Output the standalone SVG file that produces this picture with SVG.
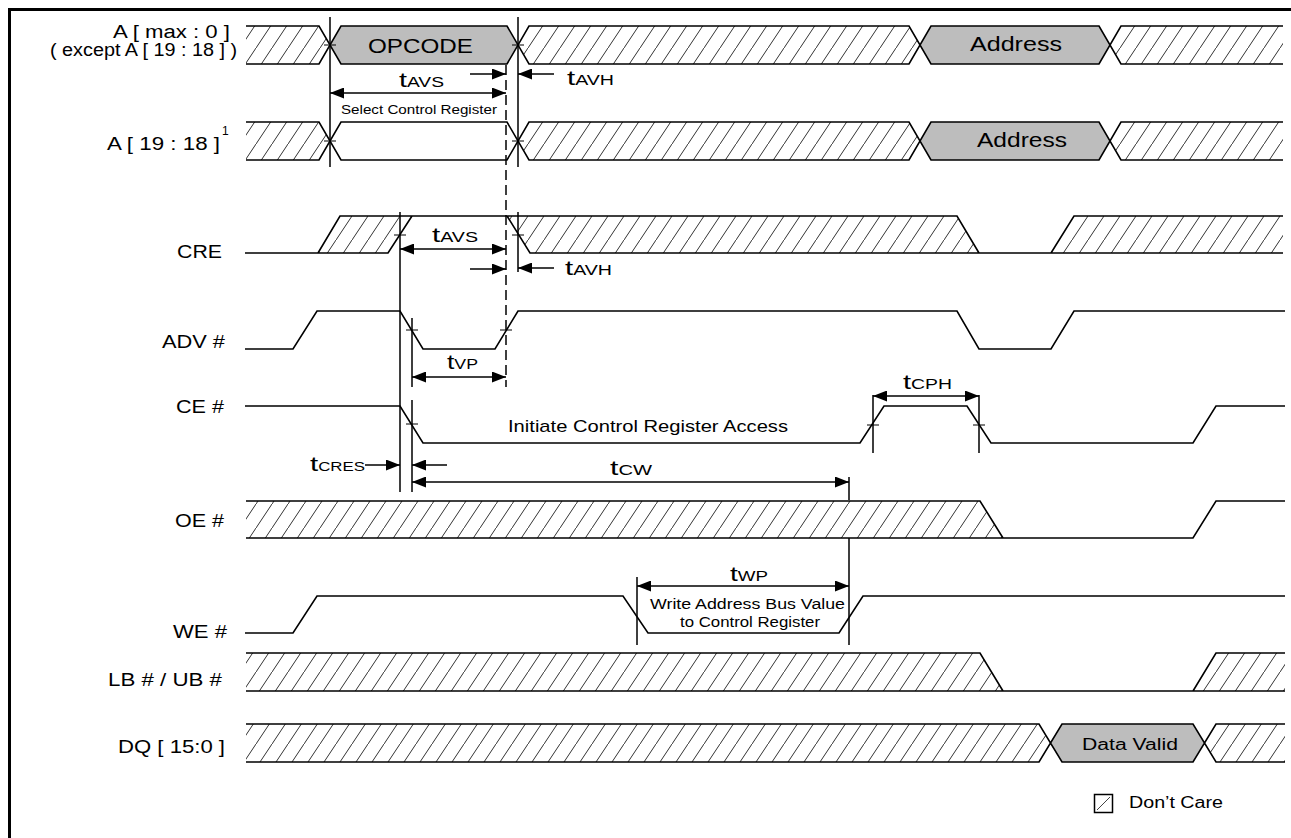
<svg xmlns="http://www.w3.org/2000/svg" width="1291" height="838" viewBox="0 0 1291 838">
<style>
text{font-family:"Liberation Sans",Arial,sans-serif;fill:#000}
.lbl{font-size:18px}
.sig{fill:none;stroke:#000;stroke-width:1.6;stroke-linejoin:miter}
.h{fill:url(#hatch);stroke:none}
.g{fill:#bdbdbd;stroke:none}
.ref{stroke:#000;stroke-width:1.5;fill:none}
.dash{stroke:#000;stroke-width:1.5;fill:none;stroke-dasharray:10 5}
.tick{stroke:#000;stroke-width:1.2}
.arr{stroke:#000;stroke-width:1.5;fill:none}
.dim{marker-end:url(#ah)}
.dbl{marker-start:url(#ah);marker-end:url(#ah)}
.tt{font-size:21px}
.ts{font-size:14px}
</style>
<defs>
<pattern id="hatch" patternUnits="userSpaceOnUse" width="16" height="24">
<path d="M-2,27 L18,-3" stroke="#333" stroke-width="1"/>
</pattern>
<marker id="ah" viewBox="0 0 14 11" refX="14" refY="5.5" markerWidth="14" markerHeight="11" markerUnits="userSpaceOnUse" orient="auto-start-reverse">
<path d="M0,0 L14,5.5 L0,11 z" fill="#000"/>
</marker>
</defs>
<rect width="1291" height="838" fill="#fff"/>
<path d="M9.5,838 V9.5 H1291" fill="none" stroke="#000" stroke-width="3"/>

<g id="addr-max">
<text class="lbl" x="113" y="38" textLength="117" lengthAdjust="spacingAndGlyphs">A [ max : 0 ]</text>
<text class="lbl" x="50" y="56" textLength="187" lengthAdjust="spacingAndGlyphs">( except A [ 19 : 18 ] )</text>
<polygon class="h" points="246,26 319,26 330,45 319,64 246,64"/>
<polygon class="g" points="330,45 341,26 507,26 518,45 507,64 341,64"/>
<polygon class="h" points="518,45 529,26 909,26 920,45 909,64 529,64"/>
<polygon class="g" points="920,45 931,26 1099,26 1110,45 1099,64 931,64"/>
<polygon class="h" points="1110,45 1121,26 1283,26 1283,64 1121,64"/>
<path class="sig" d="M246,26 H319 L341,64 H507 L529,26 H909 L931,64 H1099 L1121,26 H1283 M246,64 H319 L341,26 H507 L529,64 H909 L931,26 H1099 L1121,64 H1283"/>
<text x="368" y="53" font-size="21" textLength="105" lengthAdjust="spacingAndGlyphs">OPCODE</text>
<text x="970" y="51" font-size="21" textLength="92" lengthAdjust="spacingAndGlyphs">Address</text>
</g>

<g id="addr-19-18">
<text class="lbl" x="107" y="150" textLength="113" lengthAdjust="spacingAndGlyphs">A [ 19 : 18 ]</text>
<text x="222" y="135" font-size="12">1</text>
<polygon class="h" points="246,122 319,122 330,141 319,160 246,160"/>
<polygon class="h" points="518,141 529,122 909,122 920,141 909,160 529,160"/>
<polygon class="g" points="920,141 931,122 1099,122 1110,141 1099,160 931,160"/>
<polygon class="h" points="1110,141 1121,122 1283,122 1283,160 1121,160"/>
<path class="sig" d="M246,122 H319 L341,160 H507 L529,122 H909 L931,160 H1099 L1121,122 H1283 M246,160 H319 L341,122 H507 L529,160 H909 L931,122 H1099 L1121,160 H1283"/>
<text x="977" y="147" font-size="21" textLength="90" lengthAdjust="spacingAndGlyphs">Address</text>
</g>

<g id="cre">
<text class="lbl" x="177" y="258" textLength="45" lengthAdjust="spacingAndGlyphs">CRE</text>
<polygon class="h" points="318,253 340,216 412,216 388,253"/>
<polygon class="h" points="507,216 957,216 979,253 530,253"/>
<polygon class="h" points="1051,253 1074,216 1283,216 1283,253"/>
<path class="sig" d="M245,253 H388 L412,216 M318,253 L340,216 H957 L979,253 M507,216 L530,253 H1283 M1051,253 L1074,216 H1283"/>
</g>

<g id="adv">
<text class="lbl" x="162" y="348" textLength="63" lengthAdjust="spacingAndGlyphs">ADV #</text>
<path class="sig" d="M245,349 H293 L317,311 H400 L423,349 H495 L518,311 H957 L979,349 H1051 L1074,311 H1285"/>
</g>

<g id="ce">
<text class="lbl" x="176" y="413" textLength="48" lengthAdjust="spacingAndGlyphs">CE #</text>
<path class="sig" d="M245,406 H400 L423,443 H860 L884,406 H967 L991,443 H1193 L1216,406 H1285"/>
<text x="508" y="432" font-size="17" textLength="280" lengthAdjust="spacingAndGlyphs">Initiate Control Register Access</text>
</g>

<g id="oe">
<text class="lbl" x="175" y="527" textLength="49" lengthAdjust="spacingAndGlyphs">OE #</text>
<polygon class="h" points="246,501 980,501 1003,538 246,538"/>
<path class="sig" d="M246,501 H980 L1003,538 M246,538 H1193 L1216,501 H1285"/>
</g>

<g id="we">
<text class="lbl" x="173" y="638" textLength="54" lengthAdjust="spacingAndGlyphs">WE #</text>
<path class="sig" d="M245,633 H293 L317,596 H623 L648,633 H839 L863,596 H1285"/>
<text x="650" y="609" font-size="14" textLength="195" lengthAdjust="spacingAndGlyphs">Write Address Bus Value</text>
<text x="680" y="627" font-size="14" textLength="140" lengthAdjust="spacingAndGlyphs">to Control Register</text>
</g>

<g id="lb-ub">
<text class="lbl" x="108" y="686" textLength="114" lengthAdjust="spacingAndGlyphs">LB # / UB #</text>
<polygon class="h" points="246,653 980,653 1003,691 246,691"/>
<polygon class="h" points="1193,691 1216,653 1285,653 1285,691"/>
<path class="sig" d="M246,653 H980 L1003,691 M246,691 H1285 M1193,691 L1216,653 H1285"/>
</g>

<g id="dq">
<text class="lbl" x="118" y="753" textLength="107" lengthAdjust="spacingAndGlyphs">DQ [ 15:0 ]</text>
<polygon class="h" points="246,724 1039,724 1050,743 1039,762 246,762"/>
<polygon class="g" points="1050,743 1062,724 1193,724 1204,743 1193,762 1062,762"/>
<polygon class="h" points="1204,743 1216,724 1285,724 1285,762 1216,762"/>
<path class="sig" d="M246,724 H1039 L1062,762 H1193 L1216,724 H1285 M246,762 H1039 L1062,724 H1193 L1216,762 H1285"/>
<text x="1082" y="750" font-size="16" textLength="96" lengthAdjust="spacingAndGlyphs">Data Valid</text>
</g>

<g id="legend">
<rect x="1094.5" y="794.5" width="18" height="18" fill="#fff" stroke="#000" stroke-width="1.5"/>
<line x1="1097" y1="810" x2="1110" y2="797" stroke="#444" stroke-width="1"/>
<text x="1129" y="808" font-size="16" textLength="94" lengthAdjust="spacingAndGlyphs">Don’t Care</text>
</g>

<g id="connectors">
<path class="ref" d="M330,17 V167 M518,17 V167 M400,212 V492 M518,212 V272 M412,318 V387 M412,400 V492 M873,395 V453 M979,395 V453 M849,477 V500 M849,538 V645 M637,577 V645"/>
<path class="dash" d="M506,65 V387"/>
<path class="tick" d="M324,45 H336 M512,45 H524 M324,141 H336 M512,141 H524 M394,235 H406 M512,235 H524 M406,330 H418 M500,330 H512 M406,424 H418 M867,425 H879 M973,425 H985"/>
<path class="arr dbl" d="M330,93 H506"/>
<path class="arr dim" d="M470,74 H506"/>
<path class="arr dim" d="M554,74 H518"/>
<path class="arr dbl" d="M400,249 H506"/>
<path class="arr dim" d="M470,269 H506"/>
<path class="arr dim" d="M554,268 H518"/>
<path class="arr dbl" d="M412,377 H506"/>
<path class="arr dbl" d="M873,396 H979"/>
<path class="arr dim" d="M365,465 H400"/>
<path class="arr dim" d="M447,465 H412"/>
<path class="arr dbl" d="M412,482 H849"/>
<path class="arr dbl" d="M637,586 H849"/>
<text x="399" y="87" textLength="45" lengthAdjust="spacingAndGlyphs"><tspan class="tt">t</tspan><tspan class="ts">AVS</tspan></text>
<text x="567" y="85" textLength="47" lengthAdjust="spacingAndGlyphs"><tspan class="tt">t</tspan><tspan class="ts">AVH</tspan></text>
<text x="341" y="114" font-size="12" textLength="156" lengthAdjust="spacingAndGlyphs">Select Control Register</text>
<text x="432" y="242" textLength="46" lengthAdjust="spacingAndGlyphs"><tspan class="tt">t</tspan><tspan class="ts">AVS</tspan></text>
<text x="565" y="275" textLength="47" lengthAdjust="spacingAndGlyphs"><tspan class="tt">t</tspan><tspan class="ts">AVH</tspan></text>
<text x="447" y="369" textLength="31" lengthAdjust="spacingAndGlyphs"><tspan class="tt">t</tspan><tspan class="ts">VP</tspan></text>
<text x="903" y="389" textLength="49" lengthAdjust="spacingAndGlyphs"><tspan class="tt">t</tspan><tspan class="ts">CPH</tspan></text>
<text x="310" y="471" textLength="55" lengthAdjust="spacingAndGlyphs"><tspan class="tt">t</tspan><tspan font-size="12">CRES</tspan></text>
<text x="610" y="475" textLength="42" lengthAdjust="spacingAndGlyphs"><tspan class="tt">t</tspan><tspan class="ts">CW</tspan></text>
<text x="730" y="581" textLength="38" lengthAdjust="spacingAndGlyphs"><tspan class="tt">t</tspan><tspan class="ts">WP</tspan></text>
</g>
</svg>
